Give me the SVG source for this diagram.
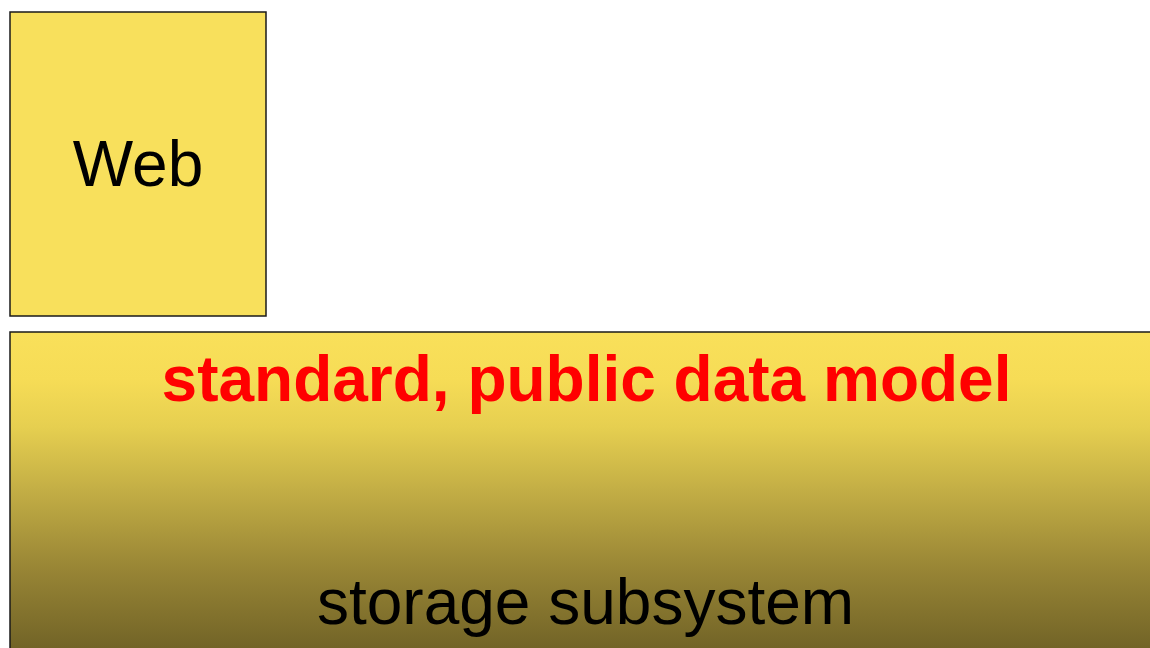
<svg xmlns="http://www.w3.org/2000/svg" width="1150" height="648" viewBox="0 0 1150 648">
  <style>
    .box { stroke: #1a1a1a; stroke-width: 1.5; }
    .lbl { font-family: "Liberation Sans", Arial, sans-serif; font-size: 64px; text-anchor: middle; }
  </style>
  <defs>
    <linearGradient id="storageGrad" x1="0" y1="332" x2="0" y2="648" gradientUnits="userSpaceOnUse">
      <stop offset="0" stop-color="#f9e05a"/>
      <stop offset="0.15" stop-color="#f6dc56"/>
      <stop offset="0.3" stop-color="#e6cf50"/>
      <stop offset="0.5" stop-color="#c3ae45"/>
      <stop offset="0.75" stop-color="#988535"/>
      <stop offset="1" stop-color="#726427"/>
    </linearGradient>
  </defs>
  <rect width="1150" height="648" fill="#ffffff"/>
  <g id="web">
    <rect class="box" x="10" y="12" width="256" height="304" fill="#f8e05c"/>
    <text class="lbl" x="138" y="186" fill="#000000">Web</text>
  </g>
  <g id="storage">
    <rect class="box" x="10" y="332" width="1150" height="330" fill="url(#storageGrad)"/>
    <text class="lbl" x="586.5" y="401" fill="#ff0000" font-weight="bold">standard, public data model</text>
    <text class="lbl" x="585.5" y="624" fill="#000000">storage subsystem</text>
  </g>
  <g id="connectors"/>
</svg>
